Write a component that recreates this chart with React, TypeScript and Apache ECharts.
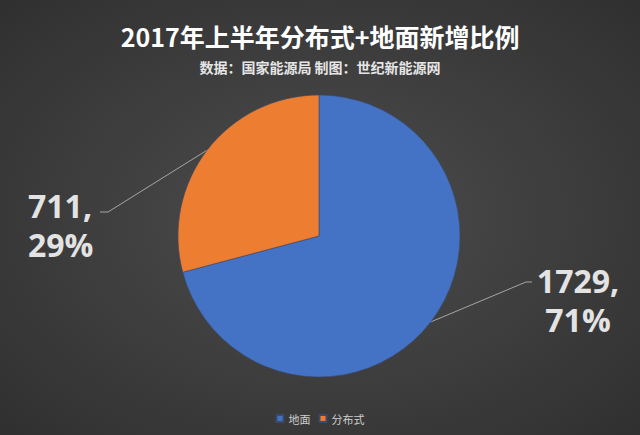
import { useEffect, useRef } from 'react'
import * as echarts from 'echarts'

const CATEGORIES = ['地面', '分布式']
const VALUES = [1729, 711]
const COLORS = ['#4472C4', '#ED7D31']
const TITLE = '2017年上半年分布式+地面新增比例'
const SUBTITLE = '数据：国家能源局 制图：世纪新能源网'

export default function App() {
  const ref = useRef<HTMLDivElement | null>(null)

  useEffect(() => {
    document.body.style.margin = '0'
    if (!ref.current) return
    const chart = echarts.init(ref.current, null, { renderer: 'svg' })
    const font = '"Noto Sans CJK SC", "Open Sans", sans-serif'
    chart.setOption({
      animation: false,
      backgroundColor: {
        type: 'radial',
        x: 0.5,
        y: 0.5,
        r: 0.75,
        colorStops: [
          { offset: 0, color: '#4d4d4d' },
          { offset: 1, color: '#2e2e2e' },
        ],
      },
      title: {
        text: TITLE,
        subtext: SUBTITLE,
        left: 'center',
        top: 18,
        itemGap: 12,
        textStyle: { color: '#ffffff', fontSize: 25, fontWeight: 'bold', fontFamily: font },
        subtextStyle: { color: '#e6e6e6', fontSize: 14, fontWeight: 'bold', fontFamily: font },
      },
      legend: {
        bottom: 6,
        left: 'center',
        icon: 'rect',
        itemWidth: 7,
        itemHeight: 7,
        itemGap: 8,
        textStyle: { color: '#cfcfcf', fontSize: 11, fontFamily: font },
        data: CATEGORIES,
      },
      series: [
        {
          type: 'pie',
          center: [319, 236],
          radius: 141,
          startAngle: 90,
          clockwise: true,
          data: CATEGORIES.map((name, i) => ({
            name,
            value: VALUES[i],
            itemStyle: { color: COLORS[i] },
          })),
          itemStyle: { borderColor: '#3b4a6b', borderWidth: 0.6 },
          label: {
            show: true,
            position: 'outside',
            formatter: (p: any) => `${p.value},\n${Math.round(p.percent)}%`,
            color: '#e3e3e3',
            fontSize: 32,
            lineHeight: 39,
            fontWeight: 'bold',
            fontFamily: '"Open Sans", "Liberation Sans", sans-serif',
          },
          labelLine: {
            show: true,
            lineStyle: { color: '#a6a6a6', width: 1 },
          },
          labelLayout: (params: any) => {
            const pts = params.labelLinePoints
            const start = pts && pts[0]
            if (params.dataIndex === 0) {
              return {
                x: 578,
                y: 300,
                align: 'center',
                verticalAlign: 'middle',
                ...(start ? { labelLinePoints: [start, [526, 282], [532, 282]] } : {}),
              }
            }
            return {
              x: 28,
              y: 225,
              align: 'left',
              verticalAlign: 'middle',
              ...(start ? { labelLinePoints: [start, [108, 212], [100, 212]] } : {}),
            }
          },
          emphasis: { disabled: true },
        },
      ],
    })
    return () => chart.dispose()
  }, [])

  return <div ref={ref} style={{ width: 640, height: 435 }} />
}
